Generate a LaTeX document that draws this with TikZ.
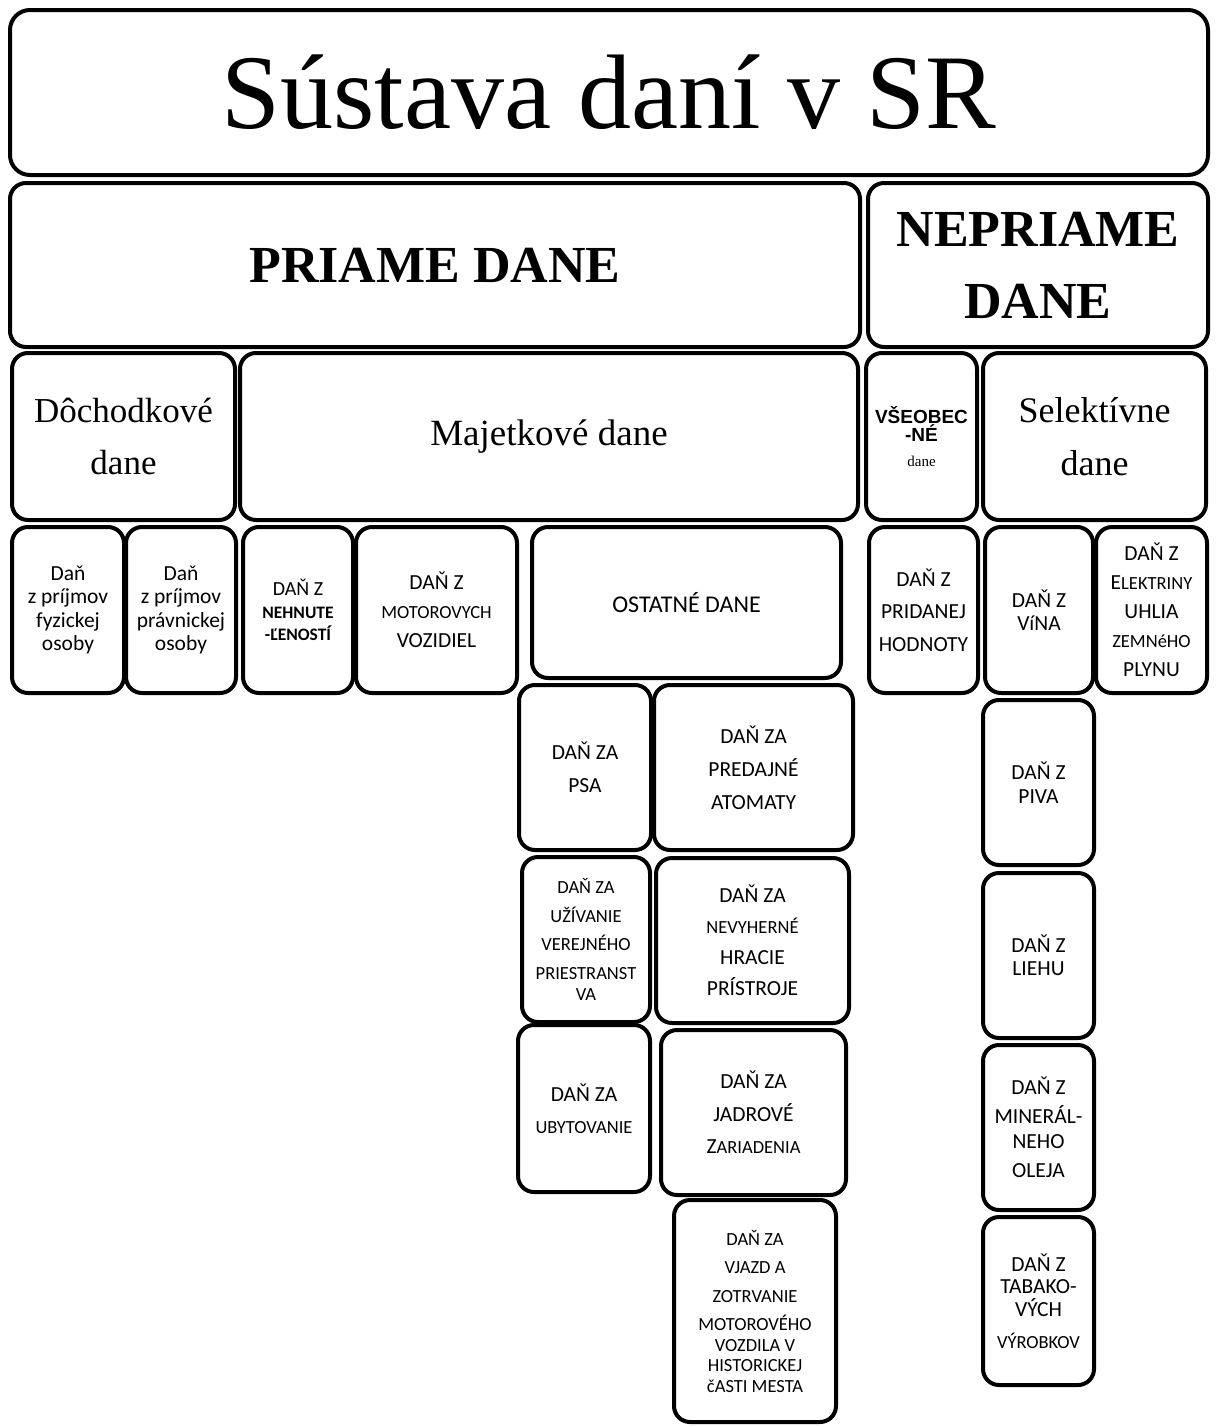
\documentclass[tikz,border=0pt]{standalone}
\usepackage{fontspec}
\setmainfont{Liberation Serif}
\newfontfamily\calib{Carlito}
\newfontfamily\arialf{Liberation Sans}
\newcommand{\fs}[2]{\fontsize{#1}{#2}\selectfont}
\newcommand{\mal}[1]{{\fontsize{18.5}{20}\selectfont #1}}
\tikzset{
  boite/.style={draw, line width=4pt, rounded corners=16pt, align=center, inner sep=0pt},
  petit/.style={boite, font=\calib\fs{21.5}{32}}
}
\begin{document}
\begin{tikzpicture}[x=1pt,y=-1pt]
  % cadre de la page (pixels)
  \useasboundingbox (0,0) rectangle (1216,1427);

  % titre
  \node[boite, rounded corners=20pt, minimum width=1198, minimum height=165, font=\fs{106}{110}] (titre) at (609,92.5) {Sústava daní v SR};

  % deux grandes familles
  \node[boite, minimum width=850, minimum height=164, font=\bfseries\fs{52}{72}] (priame) at (435,265) {PRIAME DANE};
  \node[boite, minimum width=340, minimum height=164, font=\bfseries\fs{52}{72}] (nepriame) at (1038,265) {NEPRIAME\\DANE};

  % sous-groupes
  \node[boite, minimum width=223, minimum height=167, font=\fs{35}{52}] (dochodkove) at (123.5,436.5) {Dôchodkové\\dane};
  \node[boite, minimum width=618, minimum height=167, font=\fs{37}{52}] (majetkove) at (549,436.5) {Majetkové dane};
  \node[boite, minimum width=111, minimum height=167, font=\arialf\bfseries\fs{19}{17}] (vseobecne) at (921.5,436.5) {VŠEOBEC\\-NÉ\\[8pt]{\rmfamily\mdseries\fs{15}{15}dane}};
  \node[boite, minimum width=223, minimum height=167, font=\fs{36}{53}] (selektivne) at (1094.5,436.5) {Selektívne\\dane};

  % ligne des impots
  \node[petit, minimum width=112, minimum height=166, font=\calib\fs{21.5}{23.5}] (fyzicka) at (68,610) {Daň\\z príjmov\\fyzickej\\osoby};
  \node[petit, minimum width=110, minimum height=166, font=\calib\fs{21.5}{23.5}] (pravnicka) at (181,610) {Daň\\z príjmov\\právnickej\\osoby};
  \node[petit, minimum width=110, minimum height=166, font=\calib\fs{20}{22.5}] (nehnutelnost) at (298,610) {DAŇ Z\\{\bfseries\fs{17.5}{20}NEHNUTE}\\{\bfseries\fs{17.5}{20}-ĽENOSTÍ}};
  \node[petit, minimum width=161, minimum height=166, font=\calib\fs{21.5}{29}] (motorove) at (436.5,610) {DAŇ Z\\\mal{MOTOROVYCH}\\VOZIDIEL};
  \node[petit, minimum width=309, minimum height=151, font=\calib\fs{24}{30}] (ostatne) at (686.5,602.5) {OSTATNÉ DANE};
  \node[petit, minimum width=109, minimum height=166, font=\calib\fs{21.5}{32.5}] (dph) at (923.5,610) {DAŇ Z\\PRIDANEJ\\HODNOTY};
  \node[petit, minimum width=108, minimum height=166, font=\calib\fs{21.5}{23}] (vino) at (1039,610) {DAŇ Z\\VíNA};
  \node[petit, minimum width=111, minimum height=166, font=\calib\fs{21.5}{29}] (elektrina) at (1151.5,610) {DAŇ Z\\E\mal{LEKTRINY}\\UHLIA\\\mal{ZEMNéHO}\\PLYNU};

  % ostatne dane
  \node[petit, minimum width=132, minimum height=165, font=\calib\fs{21.5}{33}] (psa) at (585,767.5) {DAŇ ZA\\PSA};
  \node[petit, minimum width=199, minimum height=165, font=\calib\fs{21.5}{33}] (automaty) at (753.5,767.5) {DAŇ ZA\\PREDAJNÉ\\ATOMATY};
  \node[petit, minimum width=128, minimum height=165, font=\calib\fs{18.5}{28.5}] (uzivanie) at (586,939.5) {DAŇ ZA\\UŽÍVANIE\\VEREJNÉHO\\PRIESTRANST\\[-7pt]VA};
  \node[petit, minimum width=193, minimum height=165, font=\calib\fs{21.5}{31}] (hracie) at (752.5,940.5) {DAŇ ZA\\\mal{NEVYHERNÉ}\\HRACIE\\PRÍSTROJE};
  \node[petit, minimum width=132, minimum height=167, font=\calib\fs{21.5}{32}] (ubytovanie) at (584,1108.5) {DAŇ ZA\\\mal{UBYTOVANIE}};
  \node[petit, minimum width=185, minimum height=165, font=\calib\fs{21.5}{32.5}] (jadrove) at (753.5,1112.5) {DAŇ ZA\\JADROVÉ\\Z\mal{ARIADENIA}};
  \node[petit, minimum width=162, minimum height=222, font=\calib\fs{18.5}{20.5}] (vjazd) at (755,1311) {DAŇ ZA\\[8pt]VJAZD A\\[8pt]ZOTRVANIE\\[8pt]MOTOROVÉHO\\VOZDILA V\\HISTORICKEJ\\čASTI MESTA};

  % selektivne dane
  \node[petit, minimum width=111, minimum height=165, font=\calib\fs{21.5}{24}] (pivo) at (1038.5,782.5) {DAŇ Z\\PIVA};
  \node[petit, minimum width=111, minimum height=165, font=\calib\fs{21.5}{23}] (lieh) at (1038.5,955.5) {DAŇ Z\\LIEHU};
  \node[petit, minimum width=111, minimum height=165, font=\calib\fs{21.5}{29}] (mineral) at (1038.5,1127.5) {DAŇ Z\\MINERÁL-\\[-4pt]NEHO\\OLEJA};
  \node[petit, minimum width=111, minimum height=168, font=\calib\fs{21.5}{22.5}] (tabak) at (1038.5,1301) {DAŇ Z\\TABAKO-\\VÝCH\\[10pt]\mal{VÝROBKOV}};
\end{tikzpicture}
\end{document}
